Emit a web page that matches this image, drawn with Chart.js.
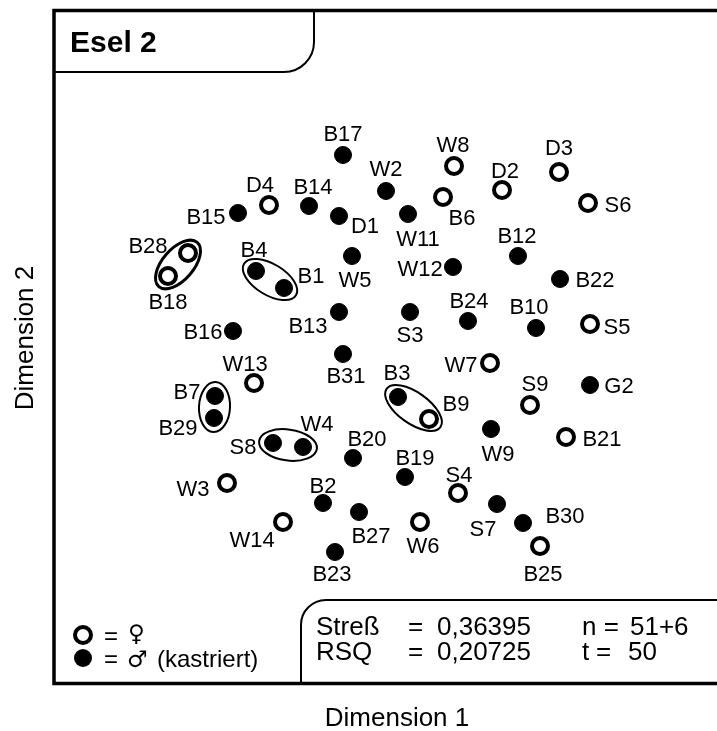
<!DOCTYPE html>
<html>
<head>
<meta charset="utf-8">
<script src="https://cdn.jsdelivr.net/npm/chart.js@4/dist/chart.umd.min.js"></script>
<style>
  html, body { margin: 0; padding: 0; background: #fff; }
  canvas { display: block; }
</style>
</head>
<body>
<canvas id="mds" width="717" height="731"></canvas>
<script>
// MDS solution, Esel 2 - coordinates on both dimensions (arbitrary units)
const maleNames = ["B17", "W2", "B14", "D1", "W11", "B15", "W5", "B4", "B1", "W12", "B12", "B22",
                   "B13", "S3", "B24", "B10", "B16", "B31", "B7", "B29", "B3", "G2", "S8", "W4",
                   "B20", "W9", "B19", "B2", "B27", "S7", "B30", "B23"];
const maleX = [291, 334, 257, 287, 356, 186, 300, 204, 232, 401, 466, 508,
               287, 358, 416, 484, 181, 291, 163, 162, 346, 538, 221, 251,
               301, 439, 353, 271, 307, 445, 471, 283];
const maleY = [531, 495, 480, 470, 472, 473, 430, 415, 398, 419, 430, 407,
               374, 374, 365, 358, 355, 332, 290, 268, 289, 301, 243, 239,
               228, 257, 209, 183, 174, 182, 163, 134];

const femaleNames = ["W8", "D3", "D2", "B6", "D4", "S6", "B28", "B18", "S5", "W7", "W13", "S9",
                     "B9", "B21", "W3", "S4", "W14", "W6", "B25"];
const femaleX = [402, 507, 450, 391, 217, 536, 136, 116, 538, 438, 202, 478,
                 377, 514, 175, 406, 231, 368, 488];
const femaleY = [520, 514, 496, 489, 481, 483, 433, 410, 362, 323, 303, 281,
                 267, 249, 203, 193, 164, 164, 140];

// pairs that are circled together
const pairs = [["B28", "B18"], ["B4", "B1"], ["B7", "B29"], ["S8", "W4"], ["B3", "B9"]];

// where each name sits relative to its point (px)
const labelOffset = {
  B17: [0, -22], W2: [0, -23], B14: [4, -20], D1: [26, 9], W11: [10, 24], B15: [-32, 3],
  D4: [-9, -21], W8: [-1, -22], B6: [19, 20], D2: [3, -20], D3: [0, -25], S6: [30, 1],
  B28: [-40, -8], B18: [0, 25], B4: [-2, -22], B1: [27, -13], W5: [3, 23], W12: [-33, 1],
  B12: [-1, -21], B22: [35, 0], B13: [-31, 13], S3: [0, 22], B24: [1, -21], B10: [-7, -22],
  S5: [27, 2], B16: [-30, 0], B31: [3, 21], W13: [-9, -20], W7: [-29, 1], B7: [-28, -5],
  B29: [-36, 9], B3: [-1, -25], B9: [27, -16], G2: [29, 0], S9: [5, -22], S8: [-30, 3],
  W4: [14, -24], B20: [14, -20], W9: [7, 24], B21: [36, 1], B19: [10, -20], S4: [1, -19],
  W3: [-34, 5], B2: [0, -18], B27: [12, 23], W14: [-31, 17], W6: [3, 23], S7: [-14, 24],
  B30: [42, -8], B25: [3, 27], B23: [-3, 21]
};

const FONT = '"Liberation Sans", Arial, Helvetica, sans-serif';

function toPoints(xs, ys) {
  return xs.map((x, i) => ({ x: x, y: ys[i] }));
}

const pointLabels = {
  id: 'pointLabels',
  afterDatasetsDraw(chart) {
    const ctx = chart.ctx;
    ctx.save();
    ctx.font = '22px ' + FONT;
    ctx.fillStyle = '#000';
    ctx.textAlign = 'center';
    ctx.textBaseline = 'alphabetic';
    chart.data.datasets.forEach((ds, i) => {
      chart.getDatasetMeta(i).data.forEach((pt, j) => {
        const name = ds.names[j];
        const off = labelOffset[name] || [0, -22];
        ctx.fillText(name, pt.x + off[0], pt.y + off[1] + 8);
      });
    });
    ctx.restore();
  }
};

const pairRings = {
  id: 'pairRings',
  afterDatasetsDraw(chart) {
    const pos = {};
    chart.data.datasets.forEach((ds, i) => {
      chart.getDatasetMeta(i).data.forEach((pt, j) => { pos[ds.names[j]] = pt; });
    });
    const ctx = chart.ctx;
    ctx.save();
    ctx.strokeStyle = '#000';
    pairs.forEach(([a, b], k) => {
      const p = pos[a], q = pos[b];
      const dx = q.x - p.x, dy = q.y - p.y;
      const d = Math.sqrt(dx * dx + dy * dy);
      ctx.lineWidth = k === 0 ? 3 : 2;
      ctx.beginPath();
      ctx.ellipse((p.x + q.x) / 2, (p.y + q.y) / 2, d / 2 + 14, 15.5, Math.atan2(dy, dx), 0, Math.PI * 2);
      ctx.stroke();
    });
    ctx.restore();
  }
};

const frame = {
  id: 'frame',
  afterDraw(chart) {
    const ctx = chart.ctx;
    const a = chart.chartArea;
    const L = a.left + 2, T = a.top + 0.5, B = a.bottom - 2.5, R = chart.width;
    ctx.save();
    ctx.strokeStyle = '#000';

    // outer frame, open on the right
    ctx.lineWidth = 3.5;
    ctx.beginPath();
    ctx.moveTo(R, T);
    ctx.lineTo(L, T);
    ctx.lineTo(L, B);
    ctx.lineTo(R, B);
    ctx.stroke();

    // title tab
    ctx.lineWidth = 2;
    ctx.beginPath();
    ctx.moveTo(L, 72);
    ctx.arcTo(314, 72, 314, 42, 30);
    ctx.lineTo(314, T);
    ctx.stroke();

    // stats box
    ctx.beginPath();
    ctx.moveTo(301, B);
    ctx.arcTo(301, 600, 326, 600, 25);
    ctx.lineTo(R, 600);
    ctx.stroke();

    ctx.fillStyle = '#000';
    ctx.textBaseline = 'alphabetic';
    ctx.textAlign = 'left';
    ctx.font = 'bold 30px ' + FONT;
    ctx.fillText('Esel 2', 70, 52);

    // legend
    ctx.lineWidth = 4;
    ctx.beginPath();
    ctx.arc(83, 635, 8, 0, Math.PI * 2);
    ctx.stroke();
    ctx.beginPath();
    ctx.arc(83, 658, 9, 0, Math.PI * 2);
    ctx.fill();
    ctx.font = '24px ' + FONT;
    ctx.fillText('=', 104, 644);
    ctx.fillText('=', 104, 667);
    ctx.fillText('(kastriert)', 157, 667);
    ctx.font = '23px "DejaVu Sans", ' + FONT;
    ctx.fillText('\u2640', 128, 641);
    ctx.fillText('\u2642', 127, 667);

    // stress / RSQ
    ctx.font = '26px ' + FONT;
    ctx.fillText('Streß', 316, 635);
    ctx.fillText('=', 408, 635);
    ctx.fillText('0,36395', 437, 635);
    ctx.fillText('n =', 582, 635);
    ctx.fillText('51+6', 630, 635);
    ctx.fillText('RSQ', 316, 660);
    ctx.fillText('=', 408, 660);
    ctx.fillText('0,20725', 437, 660);
    ctx.fillText('t', 582, 660);
    ctx.fillText('=', 596, 660);
    ctx.fillText('50', 628, 660);

    // axis titles
    ctx.textAlign = 'center';
    ctx.fillText('Dimension 1', 397, 726);
    ctx.translate(33, 338);
    ctx.rotate(-Math.PI / 2);
    ctx.fillText('Dimension 2', 0, 0);
    ctx.restore();
  }
};

new Chart(document.getElementById('mds'), {
  type: 'scatter',
  data: {
    datasets: [
      {
        label: '\u2642 (kastriert)',
        names: maleNames,
        data: toPoints(maleX, maleY),
        pointRadius: 8.5,
        pointBorderWidth: 1,
        pointBackgroundColor: '#000',
        pointBorderColor: '#000'
      },
      {
        label: '\u2640',
        names: femaleNames,
        data: toPoints(femaleX, femaleY),
        pointRadius: 8,
        pointBorderWidth: 4,
        pointBackgroundColor: '#fff',
        pointBorderColor: '#000'
      }
    ]
  },
  options: {
    responsive: false,
    animation: false,
    layout: { autoPadding: false, padding: { left: 52, top: 10, right: 0, bottom: 45 } },
    scales: {
      x: { type: 'linear', min: 0, max: 665, display: false },
      y: { type: 'linear', min: 0, max: 676, display: false }
    },
    plugins: {
      legend: { display: false },
      tooltip: { enabled: false }
    }
  },
  plugins: [pairRings, pointLabels, frame]
});
</script>
</body>
</html>
